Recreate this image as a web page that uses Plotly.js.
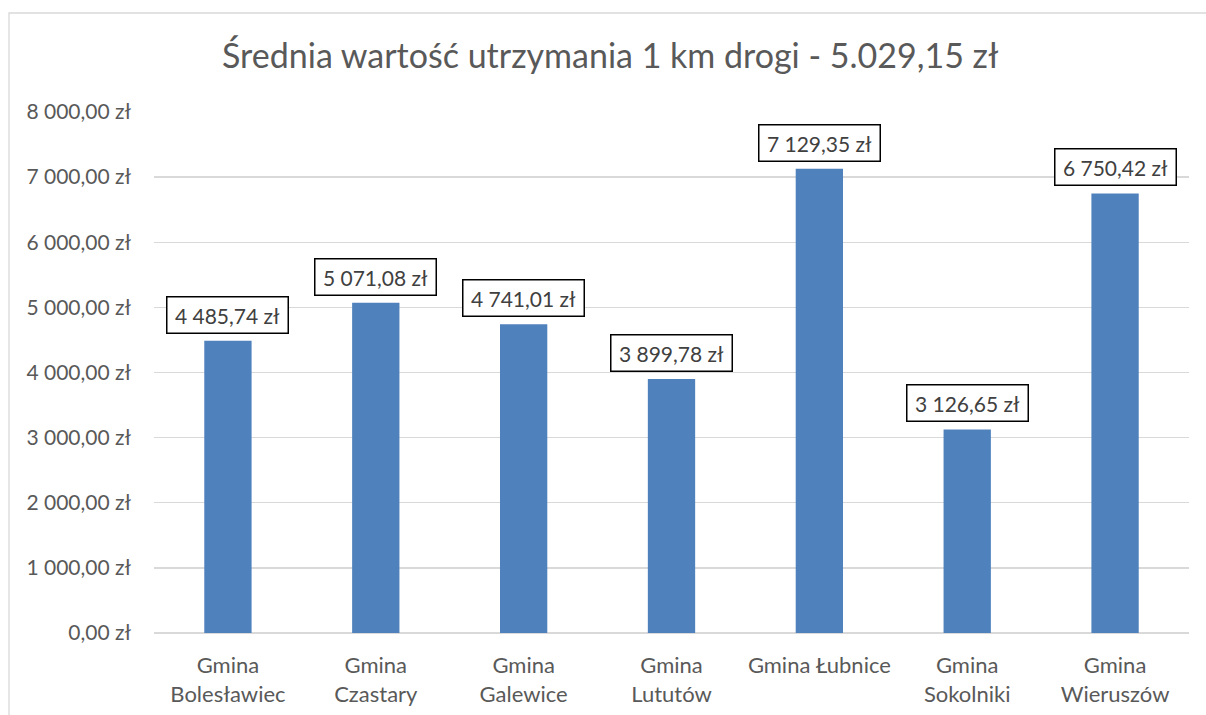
<!DOCTYPE html>
<html>
<head>
<meta charset="utf-8">
<script src="https://cdn.plot.ly/plotly-3.0.1.min.js"></script>
<style>
html,body{margin:0;padding:0;background:#fff;}
#chart{width:1206px;height:715px;}
</style>
</head>
<body>
<div id="chart"></div>
<script>
const categories = ["Gmina Bolesławiec","Gmina Czastary","Gmina Galewice","Gmina Lututów","Gmina Łubnice","Gmina Sokolniki","Gmina Wieruszów"];
const categoryLabels = ["Gmina<br>Bolesławiec","Gmina<br>Czastary","Gmina<br>Galewice","Gmina<br>Lututów","Gmina Łubnice","Gmina<br>Sokolniki","Gmina<br>Wieruszów"];
const values = [4485.74, 5071.08, 4741.01, 3899.78, 7129.35, 3126.65, 6750.42];
const yTickVals = [0,1000,2000,3000,4000,5000,6000,7000,8000];
const yTickText = ["0,00 zł","1 000,00 zł","2 000,00 zł","3 000,00 zł","4 000,00 zł","5 000,00 zł","6 000,00 zł","7 000,00 zł","8 000,00 zł"];
const titleText = "Średnia wartość utrzymania 1 km drogi - 5.029,15 zł";

function fmt(v){
  const parts = v.toFixed(2).split(".");
  const intPart = parts[0].replace(/\B(?=(\d{3})+(?!\d))/g, " ");
  return intPart + "," + parts[1] + " zł";
}

const FONT = "Lato, 'Noto Sans', sans-serif";
const GREY = "#595959";

const trace = {
  type: "bar",
  x: categories,
  y: values,
  marker: {color: "#4F81BD"},
  hoverinfo: "none"
};

const annotations = categories.map((c, i) => ({
  x: c, y: values[i], xref: "x", yref: "y",
  text: fmt(values[i]),
  showarrow: false,
  yanchor: "bottom",
  yshift: 7,
  width: 110,
  bgcolor: "#ffffff",
  bordercolor: "#000000",
  borderwidth: 1.5,
  borderpad: 5,
  font: {family: FONT, size: 21, color: "#404040"}
}));

const layout = {
  width: 1206, height: 715,
  margin: {l: 154, r: 17, t: 112, b: 82, pad: 0},
  paper_bgcolor: "#ffffff",
  plot_bgcolor: "#ffffff",
  title: {text: titleText, x: 0.506, xanchor: "center", y: 0.922, yanchor: "middle",
          font: {family: FONT, size: 34, color: GREY}},
  showlegend: false,
  bargap: 0.68,
  xaxis: {
    tickvals: categories, ticktext: categoryLabels,
    showgrid: false, showline: false, zeroline: false,
    ticks: "", ticklabelstandoff: 17,
    tickfont: {family: FONT, size: 22, color: GREY},
    fixedrange: true
  },
  yaxis: {
    range: [0, 8000],
    tickvals: yTickVals, ticktext: yTickText,
    showgrid: true, gridcolor: "#d9d9d9", gridwidth: 1.3,
    zeroline: true, zerolinecolor: "#d9d9d9", zerolinewidth: 1.3,
    showline: false, ticks: "", ticklabelstandoff: 22,
    tickfont: {family: FONT, size: 21, color: GREY},
    fixedrange: true
  },
  annotations: annotations,
  shapes: [{
    type: "rect", xref: "paper", yref: "paper",
    x0: (9-154)/1035, x1: (1215-154)/1035,
    y0: (633-725)/521, y1: (633-13)/521,
    line: {color: "#d9d9d9", width: 1.3}, fillcolor: "rgba(0,0,0,0)", layer: "below"
  }]
};

Plotly.newPlot("chart", [trace], layout, {displayModeBar: false, staticPlot: true});
</script>
</body>
</html>
